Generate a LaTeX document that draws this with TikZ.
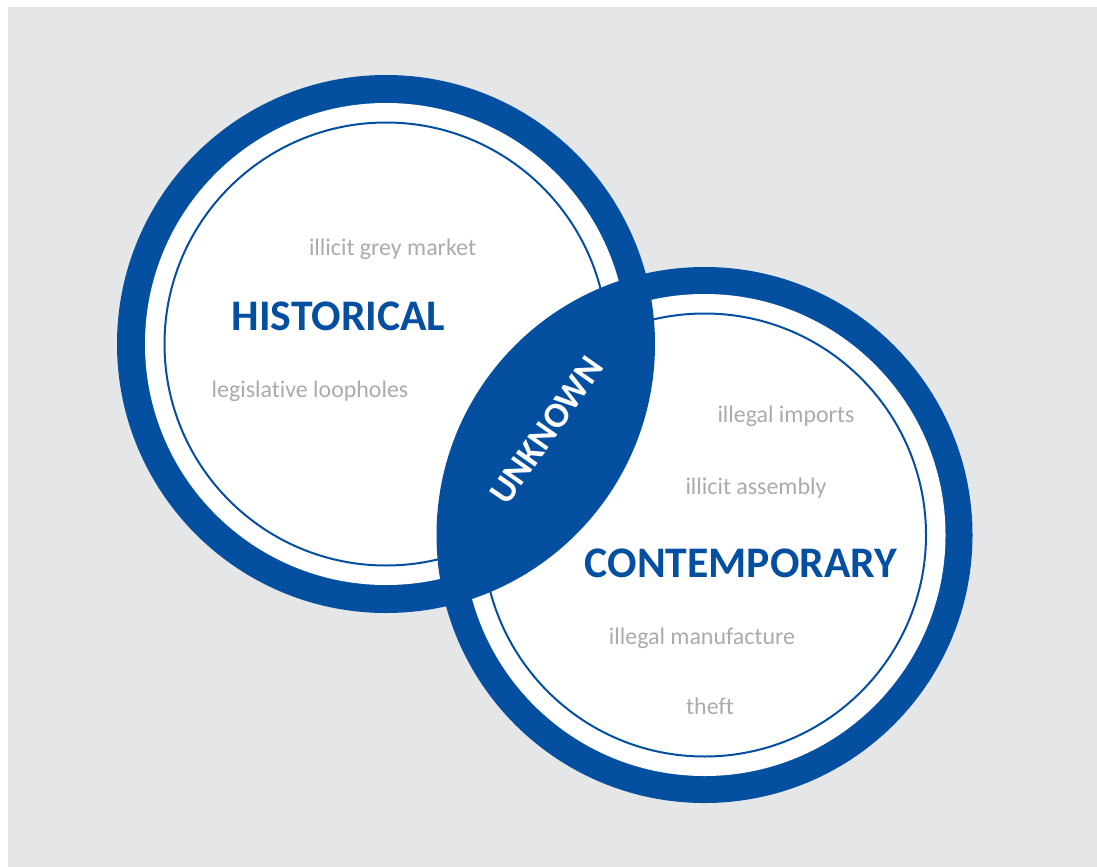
\documentclass[tikz,border=0pt]{standalone}
\usepackage{fontspec}
\setmainfont{Carlito}[Ligatures=NoCommon]
\usetikzlibrary{positioning}
\definecolor{venblue}{RGB}{5,79,161}
\definecolor{venback}{RGB}{229,230,232}
\definecolor{ventext}{RGB}{171,171,171}

\begin{document}
\begin{tikzpicture}[x=1bp, y=-1bp,
  ring/.style={circle, fill=venblue, inner sep=0pt},
  face/.style={circle, fill=white, minimum size=482bp, inner sep=0pt},
  rim/.style={circle, draw=venblue, line width=2bp, minimum size=443bp, inner sep=0pt},
  title/.style={text=venblue, font=\bfseries\fontsize{43.8}{44}\selectfont, anchor=base},
  item/.style={text=ventext, font=\fontsize{24}{24}\selectfont, anchor=base}]
\useasboundingbox (0,0) rectangle (1097,867);
\fill[white] (0,0) rectangle (1097,867);
\fill[venback] (8,7) rectangle (1097,867);
\node[ring, minimum size=538bp] (hist) at (386,344) {};
\node[ring, minimum size=536bp] (cont) at (704.5,535) {};
\node[face] (histface) at (hist.center) {};
\node[face] (contface) at (cont.center) {};
\node[rim] (histrim) at (hist.center) {};
\node[rim] (contrim) at (cont.center) {};
\begin{scope}
\clip (hist.center) circle (269bp);
\fill[venblue] (cont.center) circle (268bp);
\end{scope}
\node[title] (histtitle) at (338.5,330) {HISTORICAL};
\node[title] (conttitle) at (741,577) {CONTEMPORARY};
\node[text=white, font=\bfseries\fontsize{36}{36}\selectfont, rotate=55, inner sep=0pt] (unknown) at (546.5,430.5) {UNKNOWN};
\node[item] (grey) at (392.5,255) {illicit grey market};
\node[item] (loop) at (310,397) {legislative loopholes};
\node[item] (imports) at (786,422) {illegal imports};
\node[item] (assembly) at (756,494) {illicit assembly};
\node[item] (manuf) at (702,644) {illegal manufacture};
\node[item] (theft) at (710,714) {theft};
\end{tikzpicture}
\end{document}
